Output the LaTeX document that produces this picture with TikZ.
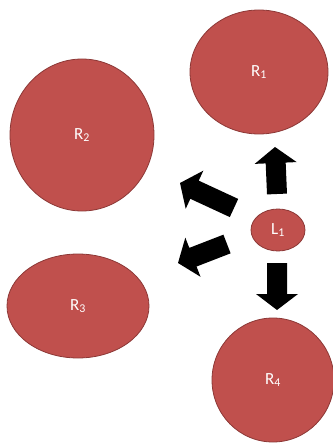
\documentclass[tikz,border=0pt]{standalone}
\usepackage{fontspec}
\setmainfont{Carlito}
\usetikzlibrary{shapes.geometric,calc}
\definecolor{rfill}{HTML}{C0504D}
\definecolor{rdraw}{HTML}{8C3836}
\tikzset{
  region/.style={ellipse, fill=rfill, draw=rdraw, line width=0.8pt, text=white, font=\fontsize{17}{19}\selectfont, inner sep=0pt},
  arrowfill/.style={fill=black}
}
\newcommand\blockarrow[2]{%
  \coordinate (hb) at ($(#2)!16pt!(#1)$);
  \fill[arrowfill] ($(#1)!10pt!90:(#2)$) -- ($(hb)!10pt!90:(#2)$) -- ($(hb)!21pt!90:(#2)$) -- (#2)
    -- ($(hb)!21pt!-90:(#2)$) -- ($(hb)!10pt!-90:(#2)$) -- ($(#1)!10pt!-90:(#2)$) -- cycle;}
\begin{document}
\begin{tikzpicture}[x=1pt,y=-1pt]
\useasboundingbox (0,0) rectangle (332,443);
\node[region, minimum width=138pt, minimum height=124pt] (R1) at (259,72) {R\textsubscript{1}};
\node[region, minimum width=144pt, minimum height=152pt] (R2) at (82,135) {R\textsubscript{2}};
\node[region, minimum width=142pt, minimum height=104pt] (R3) at (78,306) {R\textsubscript{3}};
\node[region, minimum width=122pt, minimum height=124pt] (R4) at (273,380) {R\textsubscript{4}};
\node[region, minimum width=54pt, minimum height=42pt] (L1) at (278,230) {L\textsubscript{1}};
\coordinate (a1t) at (277,194); \coordinate (a1h) at (275,147);
\coordinate (a2t) at (234,208); \coordinate (a2h) at (180,183);
\coordinate (a3t) at (227,244); \coordinate (a3h) at (178,263);
\coordinate (a4t) at (277,263); \coordinate (a4h) at (277,310);
\blockarrow{a1t}{a1h}
\blockarrow{a2t}{a2h}
\blockarrow{a3t}{a3h}
\blockarrow{a4t}{a4h}
\end{tikzpicture}
\end{document}
